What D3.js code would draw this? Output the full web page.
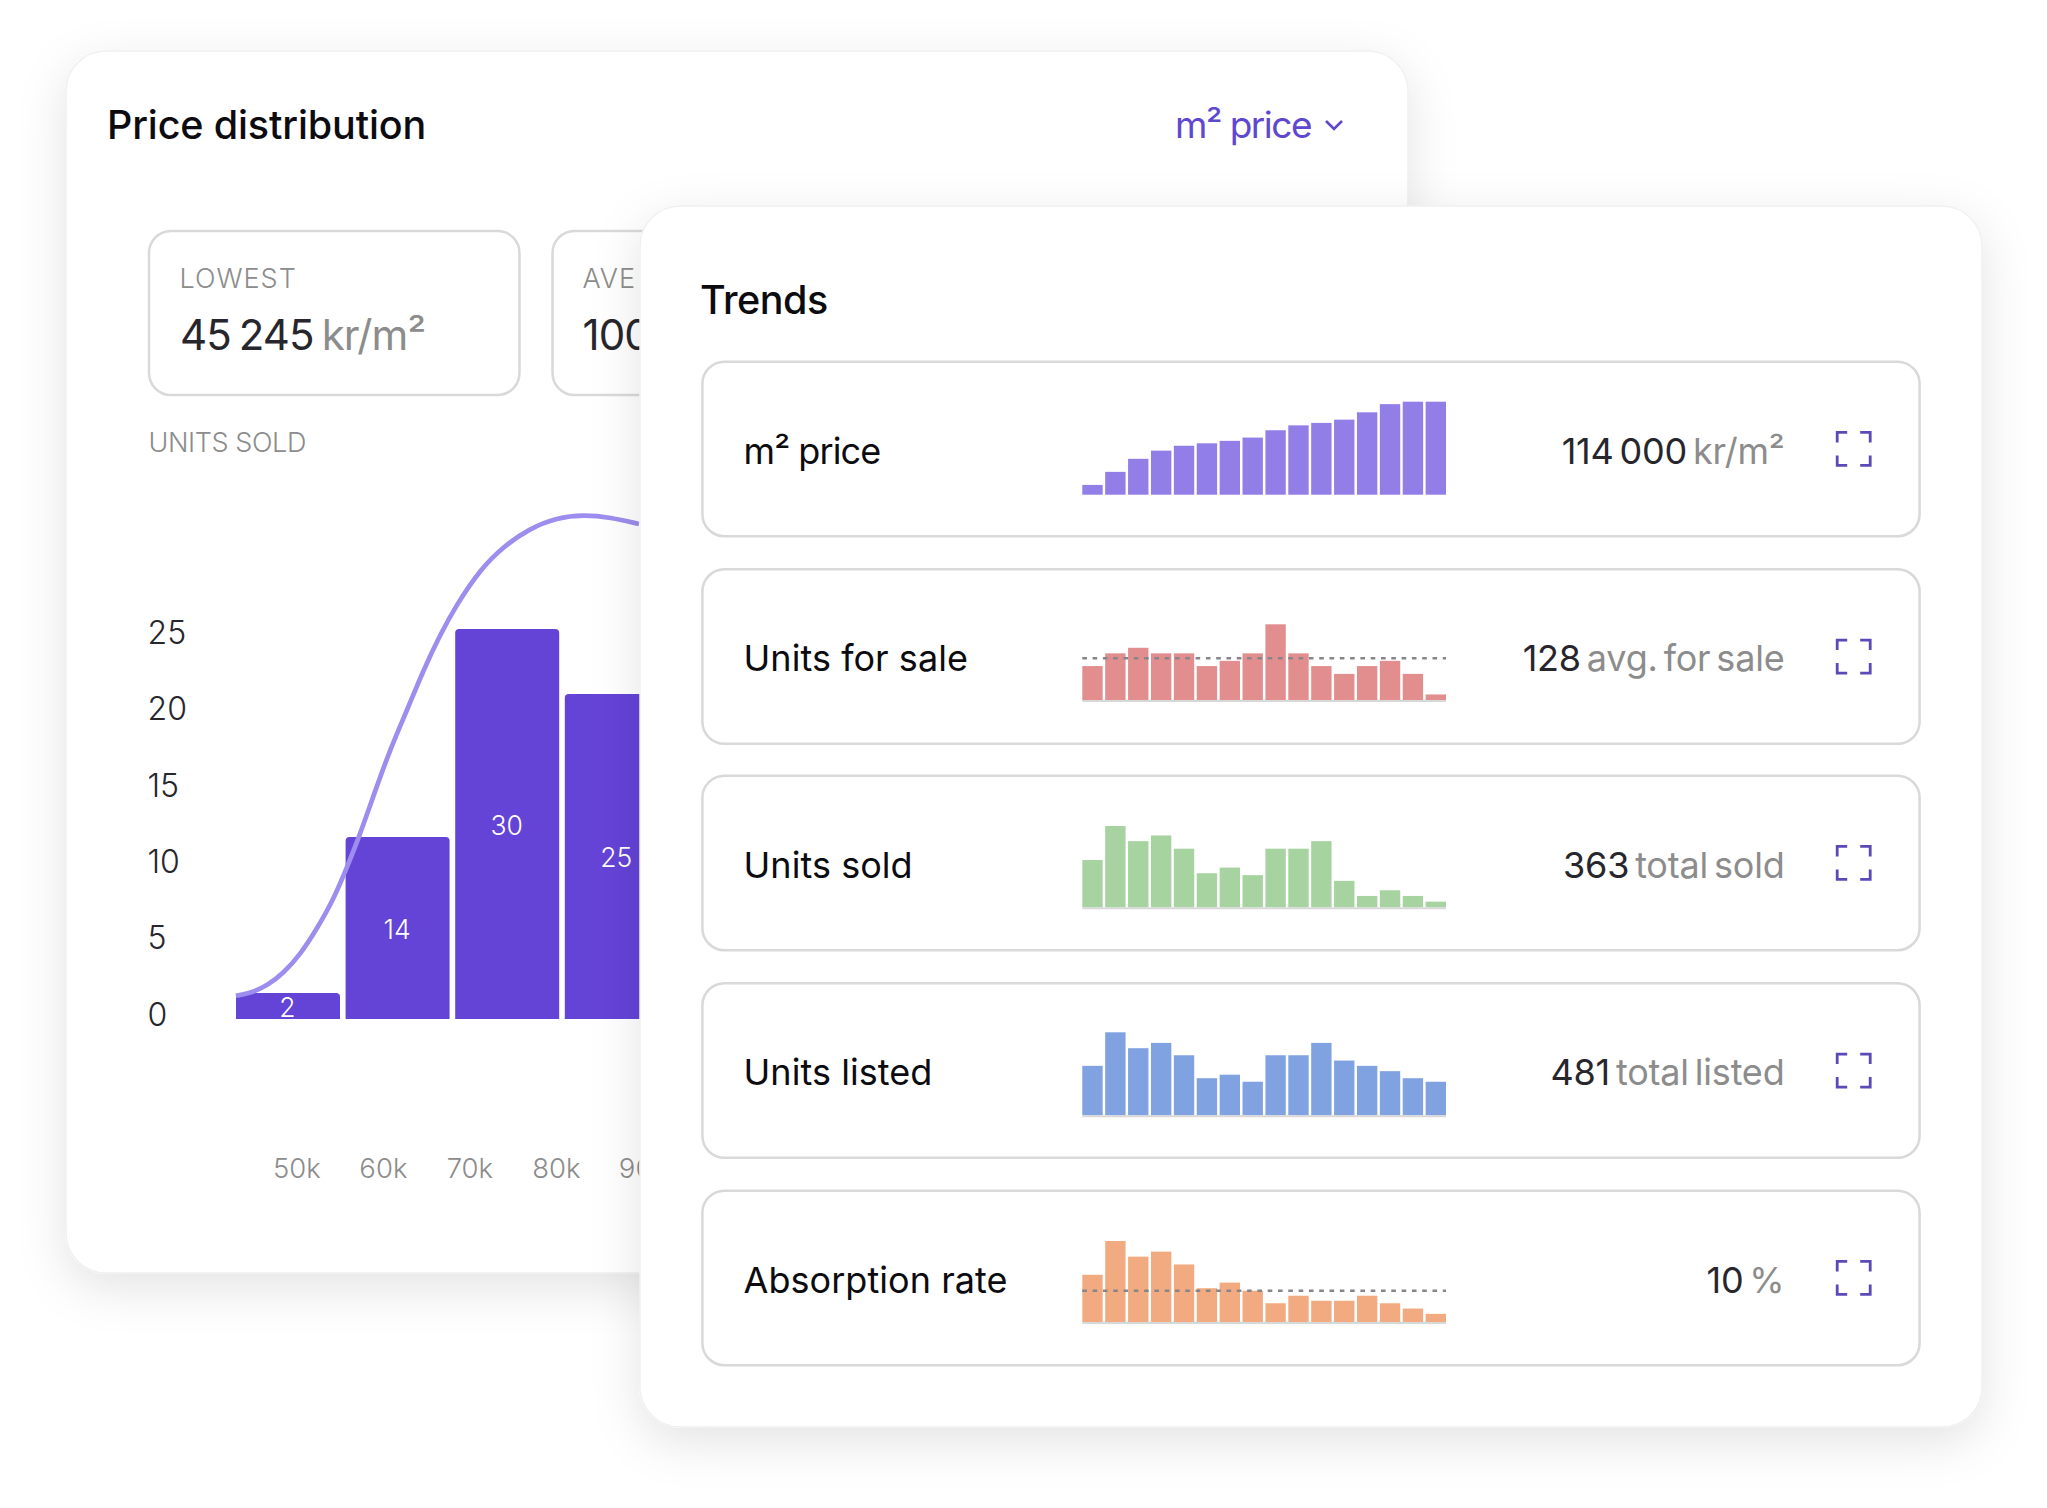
<!DOCTYPE html>
<html lang='en'>
<head>
<meta charset='utf-8'>
<title>Price distribution and trends</title>
<script src='https://cdn.jsdelivr.net/npm/d3@7'></script>
<style>
	html, body { margin: 0; padding: 0; background: #fff; }
	svg { display: block; }
	text { font-family: Inter, 'Noto Sans', sans-serif; }
</style>
</head>
<body>
<script>
// histogram
var priceBins = ['50k-60k', '60k-70k', '70k-80k', '80k-90k'];
var binCounts = [2, 14, 30, 25];
var yTicks = [0, 5, 10, 15, 20, 25];
var xTicks = [50, 60, 70, 80, 90];
var curvePrice = [43, 44.6, 46.6, 48.5, 50.4, 52.3, 54.3, 55.8, 57.2, 58.9, 60.8, 62.8, 64.7, 66.6, 68.5, 71.2, 73.9, 77, 80.1, 83.2, 86.3, 89.6];
var curveCount = [1.79, 1.98, 2.54, 3.52, 4.92, 6.85, 9.2, 11.6, 13.92, 17.15, 20.69, 23.77, 26.85, 29.54, 31.85, 34.54, 36.33, 37.75, 38.56, 38.79, 38.59, 38.08];

// trend rows
var rowNames = ['m² price', 'Units for sale', 'Units sold', 'Units listed', 'Absorption rate'];
var rowValues = ['114 000', '128', '363', '481', '10'];
var rowUnits = ['kr/m²', 'avg. for sale', 'total sold', 'total listed', '%'];
var rowAverages = [null, 128, null, null, 10];
var priceTrend = [12, 28, 44, 54, 60, 63, 66, 70, 79, 85, 88, 92, 101, 111, 114, 114];
var forSaleTrend = [104, 143, 160, 143, 143, 104, 120, 143, 232, 143, 104, 80, 104, 120, 80, 17];
var soldTrend = [25, 43, 35, 38, 31, 18, 21, 17, 31, 31, 35, 14, 6, 9, 6, 3];
var listedTrend = [28, 47, 38, 41, 34, 21, 23, 19, 34, 34, 41, 31, 28, 25, 21, 19];
var absorptionTrend = [15.1, 25.9, 20.9, 22.5, 18.4, 10.8, 12.6, 10, 6, 8.4, 6.8, 6.8, 8.4, 6, 4.3, 2.6];
var trends = [priceTrend, forSaleTrend, soldTrend, listedTrend, absorptionTrend];

var rowColors = ['#917ee6', '#e38e8e', '#a6d3a0', '#81a2e0', '#f2ab80'];
var rowTops = [361.7, 569.3, 775.7, 983.3, 1190.7];
var rowHeight = 174.5;
var sparkBases = [494.7, 700, 907.3, 1115.3, 1322];
var sparkHeights = [93, 75.7, 81.3, 83, 81];
var labelBases = [463.5, 671, 877.5, 1085, 1293];

var width = 2047, height = 1508;
var dark = '#26262c', gray = '#8c8c8c', purple = '#6443d7';

var svg = d3.select('body').append('svg').attr('width', width).attr('height', height);

var shadow = svg.append('defs').append('filter').attr('id', 'cardshadow')
	.attr('x', '-15%').attr('y', '-15%').attr('width', '130%').attr('height', '130%');
shadow.append('feDropShadow').attr('dx', 0).attr('dy', 14).attr('stdDeviation', 24)
	.attr('flood-color', '#000').attr('flood-opacity', 0.11);

function card(x, y, w, h) {
	svg.append('rect').attr('x', x).attr('y', y).attr('width', w).attr('height', h).attr('rx', 40)
		.attr('fill', '#fff').attr('stroke', '#f0f0f0').attr('stroke-width', 1.5)
		.attr('filter', 'url(#cardshadow)');
}
function box(x, y, w, h, r) {
	svg.append('rect').attr('x', x).attr('y', y).attr('width', w).attr('height', h).attr('rx', r)
		.attr('fill', '#fff').attr('stroke', '#d9d9d9').attr('stroke-width', 2.5);
}
function label(x, y, size, fill, str, anchor) {
	return svg.append('text').attr('x', x).attr('y', y).attr('font-size', size).attr('fill', fill)
		.attr('text-anchor', anchor || 'start').text(str);
}
function valueText(x, y, size, value, unit, spacing, wordSpacing) {
	var t = svg.append('text').attr('x', x).attr('y', y).attr('font-size', size)
		.attr('letter-spacing', spacing).attr('word-spacing', wordSpacing);
	t.append('tspan').attr('fill', dark).text(value + ' ');
	t.append('tspan').attr('fill', gray).text(unit);
	return t;
}

// ---- back card ----
card(66, 51, 1342, 1222);
label(107, 139, 39.5, '#0c0c10', 'Price distribution').attr('font-weight', 500).attr('letter-spacing', -0.14);
label(1311, 138, 37, '#5f47cf', 'm² price', 'end').attr('letter-spacing', -1.5);
svg.append('path').attr('d', d3.line()([[1326, 121], [1334, 129], [1342, 121]]))
	.attr('fill', 'none').attr('stroke', '#5f47cf').attr('stroke-width', 2.6);

box(149, 231, 370.5, 164, 22);
box(552.5, 231, 370, 164, 22);
label(179.5, 288, 27, gray, 'LOWEST').attr('font-weight', 300).attr('letter-spacing', 1);
valueText(180, 349.5, 42, '45 245', 'kr/m²', -0.9, -3).attr('text-anchor', 'start');
label(582.5, 288, 27, gray, 'AVE').attr('font-weight', 300).attr('letter-spacing', 1);
label(582.5, 349.5, 42, dark, '100').attr('letter-spacing', -0.9);
label(148.5, 452, 27, gray, 'UNITS SOLD').attr('font-weight', 300).attr('letter-spacing', -0.4);

// bar scales: the tick labels in the picture run on their own spacing, not the bars'
var yBars = d3.scaleLinear().domain([0, 30]).range([1019, 629]);
var yLabels = d3.scaleLinear().domain([0, 25]).range([1015, 633]);
var xBins = d3.scaleBand().domain(priceBins).range([236, 668.8]).paddingInner(5.6 / 109.6).paddingOuter(0);
var xPrice = d3.scaleLinear().domain([50, 90]).range([296.4, 642.4]);

svg.selectAll('path.bin').data(priceBins).enter().append('path').attr('class', 'bin')
	.attr('fill', purple)
	.attr('d', function (d, i) {
		var x = xBins(d), w = xBins.bandwidth(), top = yBars(binCounts[i]), base = yBars(0), r = 4;
		return 'M' + x + ',' + base + 'V' + (top + r) + 'Q' + x + ',' + top + ' ' + (x + r) + ',' + top +
			'H' + (x + w - r) + 'Q' + (x + w) + ',' + top + ' ' + (x + w) + ',' + (top + r) + 'V' + base + 'Z';
	});

svg.append('path').datum(curvePrice)
	.attr('fill', 'none').attr('stroke', '#9d8dee').attr('stroke-width', 4.7)
	.attr('d', d3.line().curve(d3.curveBasis)
		.x(function (d) { return xPrice(d); })
		.y(function (d, i) { return yBars(curveCount[i]); }));

svg.selectAll('text.binlabel').data(priceBins).enter().append('text').attr('class', 'binlabel')
	.attr('x', function (d) { return xBins(d) + xBins.bandwidth() / 2 - 0.5; })
	.attr('y', function (d, i) { return (yBars(binCounts[i]) + yBars(0)) / 2 + 1; })
	.attr('dy', '0.36em').attr('text-anchor', 'middle').attr('font-size', 26.5).attr('font-weight', 300).attr('fill', '#fff')
	.text(function (d, i) { return binCounts[i]; });

var yAxis = svg.append('g').attr('transform', 'translate(147.5,0)')
	.call(d3.axisRight(yLabels).tickValues(yTicks).tickSize(0).tickPadding(0));
yAxis.select('.domain').remove();
yAxis.selectAll('text').attr('font-size', 32).attr('font-weight', 300).attr('fill', dark).style('font-family', 'Inter');

var xAxis = svg.append('g').attr('transform', 'translate(0,1168)')
	.call(d3.axisBottom(xPrice).tickValues(xTicks).tickSize(0).tickPadding(0)
		.tickFormat(function (d) { return d + 'k'; }));
xAxis.select('.domain').remove();
xAxis.selectAll('text').attr('dy', '0.36em').attr('font-size', 27.5).attr('font-weight', 300).attr('fill', gray).style('font-family', 'Inter');

// ---- front card ----
card(640, 206, 1342, 1221);
label(700, 313.5, 39.5, '#0c0c10', 'Trends').attr('font-weight', 500).attr('letter-spacing', -0.5);

var xSpark = d3.scaleBand().domain(d3.range(16)).range([1082.3, 1446]).paddingInner(2.5 / 22.7).paddingOuter(0);

rowNames.forEach(function (name, r) {
	box(702.4, rowTops[r], 1217.2, rowHeight, 22);
	label(743.5, labelBases[r], 36, '#0c0c10', name).attr('letter-spacing', r == 0 ? -0.9 : 0.05);

	var ySpark = d3.scaleLinear().domain([0, d3.max(trends[r])])
		.range([sparkBases[r], sparkBases[r] - sparkHeights[r]]);

	svg.append('g').selectAll('rect').data(trends[r]).enter().append('rect')
		.attr('x', function (d, i) { return xSpark(i); })
		.attr('y', function (d) { return ySpark(d); })
		.attr('width', xSpark.bandwidth())
		.attr('height', function (d) { return ySpark(0) - ySpark(d); })
		.attr('fill', rowColors[r]);

	if (r > 0) {
		svg.append('line').attr('x1', 1082.3).attr('x2', 1446)
			.attr('y1', sparkBases[r] + 1).attr('y2', sparkBases[r] + 1)
			.attr('stroke', '#d8d8d8').attr('stroke-width', 2);
	}
	if (rowAverages[r] !== null) {
		svg.append('line').attr('x1', 1082.3).attr('x2', 1446)
			.attr('y1', ySpark(rowAverages[r])).attr('y2', ySpark(rowAverages[r]))
			.attr('stroke', '#85858a').attr('stroke-width', 2.3).attr('stroke-dasharray', '4.6 5.7');
	}

	valueText(1784.5, labelBases[r], 36, rowValues[r], rowUnits[r], -0.2, -4).attr('text-anchor', 'end');

	// expand icon
	var cx = 1853.7, cy = rowTops[r] + rowHeight / 2, a = 16.5, b = 10;
	var corners = [[-1, -1], [1, -1], [1, 1], [-1, 1]];
	svg.append('path')
		.attr('d', corners.map(function (c) {
			return 'M' + (cx + c[0] * (a - b)) + ',' + (cy + c[1] * a) + 'H' + (cx + c[0] * a) + 'V' + (cy + c[1] * (a - b));
		}).join(''))
		.attr('fill', 'none').attr('stroke', '#5b49b8').attr('stroke-width', 2.8);
});
</script>
</body>
</html>
